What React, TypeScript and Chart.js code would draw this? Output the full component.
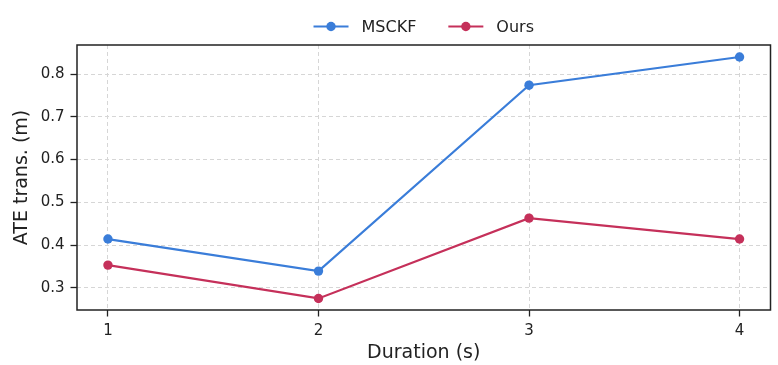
import React, { useEffect, useRef } from "react";
import { Chart, registerables } from "chart.js";

Chart.register(...registerables);

const durations = [1, 2, 3, 4];
const msckfValues = [0.414, 0.339, 0.774, 0.84];
const oursValues = [0.353, 0.275, 0.463, 0.414];
const seriesNames = ["MSCKF", "Ours"];
const seriesColors = ["#3a7dd9", "#c5305a"];
const xTitle = "Duration (s)";
const yTitle = "ATE trans. (m)";

const FONT = "'DejaVu Sans', sans-serif";
const INK = "#222222";

const framePlugin = {
  id: "frame",
  afterDraw(chart: any) {
    const { ctx, chartArea } = chart;
    ctx.save();
    ctx.strokeStyle = INK;
    ctx.lineWidth = 1.5;
    ctx.strokeRect(chartArea.left, chartArea.top, chartArea.right - chartArea.left, chartArea.bottom - chartArea.top);
    ctx.restore();
  },
};

const legendPlugin = {
  id: "mplLegend",
  afterDraw(chart: any) {
    const { ctx, chartArea } = chart;
    ctx.save();
    ctx.font = `16px ${FONT}`;
    const handle = 35;
    const textGap = 13;
    const itemGap = 32;
    const items = chart.data.datasets.map((d: any) => ({
      label: d.label,
      color: d.borderColor,
      w: handle + textGap + ctx.measureText(d.label).width,
    }));
    const total = items.reduce((s: number, it: any) => s + it.w, 0) + itemGap * (items.length - 1);
    let x = (chartArea.left + chartArea.right) / 2 - total / 2;
    const y = 26.5;
    for (const it of items) {
      ctx.strokeStyle = it.color;
      ctx.lineWidth = 2.2;
      ctx.beginPath();
      ctx.moveTo(x, y);
      ctx.lineTo(x + handle, y);
      ctx.stroke();
      ctx.fillStyle = it.color;
      ctx.beginPath();
      ctx.arc(x + handle / 2, y, 4.7, 0, Math.PI * 2);
      ctx.fill();
      ctx.fillStyle = INK;
      ctx.textBaseline = "middle";
      ctx.textAlign = "left";
      ctx.fillText(it.label, x + handle + textGap, y + 1);
      x += it.w + itemGap;
    }
    ctx.restore();
  },
};

export default function App() {
  const ref = useRef<HTMLCanvasElement | null>(null);

  useEffect(() => {
    document.body.style.margin = "0";
    const canvas = ref.current;
    if (!canvas) return;
    const mk = (vals: number[]) => durations.map((d, i) => ({ x: d, y: vals[i] }));
    const ds = (i: number, vals: number[]) => ({
      label: seriesNames[i],
      data: mk(vals),
      borderColor: seriesColors[i],
      backgroundColor: seriesColors[i],
      pointBackgroundColor: seriesColors[i],
      pointBorderWidth: 0,
      pointRadius: 4.7,
      borderWidth: 2.2,
    });
    const grid = {
      color: "#d6d6d6",
      lineWidth: 1,
      tickLength: 6.5,
      tickColor: INK,
      tickWidth: 1.3,
      tickBorderDash: [],
    };
    const chart = new Chart(canvas, {
      type: "line",
      data: { datasets: [ds(0, msckfValues), ds(1, oursValues)] },
      options: {
        animation: false,
        responsive: false,
        maintainAspectRatio: false,
        layout: { padding: { top: 45, right: 7.5, left: 0, bottom: 0 } },
        plugins: { legend: { display: false }, tooltip: { enabled: false } },
        scales: {
          x: {
            type: "linear",
            min: 0.853,
            max: 4.147,
            afterFit: (s: any) => {
              s.height = 55;
            },
            ticks: {
              stepSize: 1,
              includeBounds: false,
              padding: 6,
              color: INK,
              font: { family: FONT, size: 15 },
              callback: (v: any) => String(v),
              maxRotation: 0,
            },
            grid,
            border: { display: false, dash: [4, 3] },
            title: {
              display: true,
              text: xTitle,
              color: INK,
              font: { family: FONT, size: 19 },
              padding: { top: 0, bottom: 0.5 },
            },
          },
          y: {
            type: "linear",
            min: 0.248,
            max: 0.868,
            afterFit: (s: any) => {
              s.width = 77;
            },
            ticks: {
              stepSize: 0.1,
              includeBounds: false,
              padding: 6,
              color: INK,
              font: { family: FONT, size: 15 },
              callback: (v: any) => Number(v).toFixed(1),
            },
            grid,
            border: { display: false, dash: [4, 3] },
            title: {
              display: true,
              text: yTitle,
              color: INK,
              font: { family: FONT, size: 19 },
              padding: { top: 11, bottom: 0 },
            },
          },
        },
      },
      plugins: [framePlugin, legendPlugin],
    } as any);
    return () => chart.destroy();
  }, []);

  return (
    <div style={{ position: "fixed", left: 0, top: 0, width: 778, height: 365 }}>
      <canvas ref={ref} width={778} height={365} style={{ width: 778, height: 365, display: "block" }} />
    </div>
  );
}
